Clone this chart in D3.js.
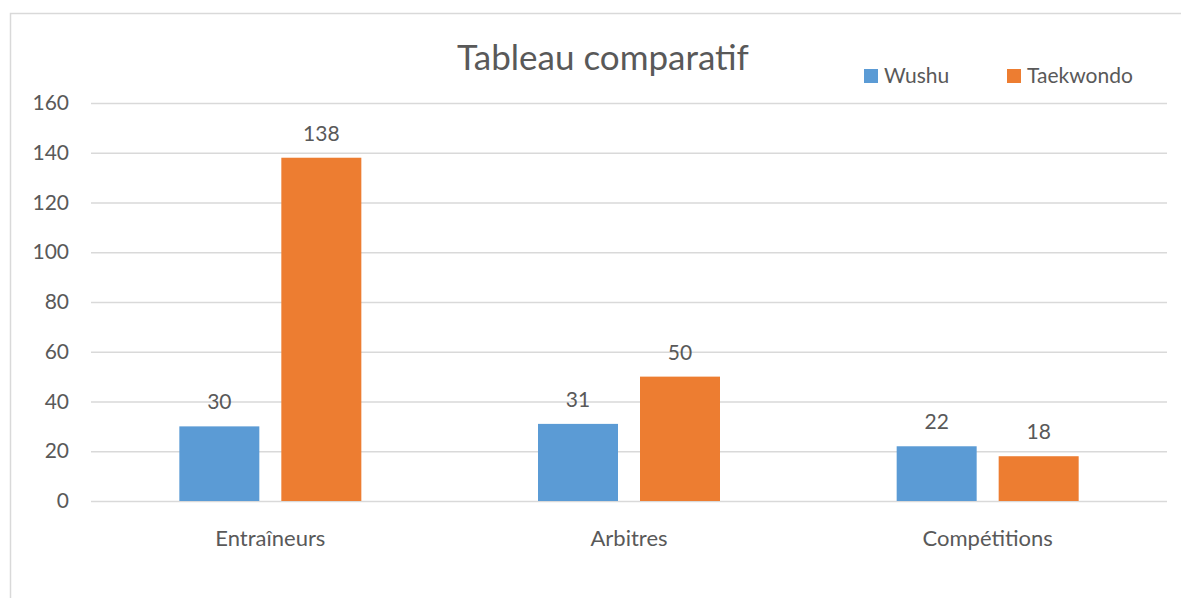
<!DOCTYPE html>
<html><head><meta charset="utf-8">
<script src="https://cdn.jsdelivr.net/npm/d3@7"></script>
<style>body{margin:0;background:#fff}svg{display:block}text{font-family:Lato,"Open Sans",sans-serif;fill:#595959}</style>
</head><body>
<script>
const categories = ["Entraîneurs", "Arbitres", "Compétitions"];
const seriesNames = ["Wushu", "Taekwondo"];
const wushu = [30, 31, 22];
const taekwondo = [138, 50, 18];
const yTicks = [0, 20, 40, 60, 80, 100, 120, 140, 160];
const colors = ["#5B9BD5", "#ED7D31"];
const title = "Tableau comparatif";

const W = 1181, H = 598;
const svg = d3.select("body").append("svg").attr("width", W).attr("height", H);
svg.append("rect").attr("x", 10.5).attr("y", 13.5).attr("width", W + 20).attr("height", H + 20)
  .attr("fill", "none").attr("stroke", "#d9d9d9").attr("stroke-width", 1.5);

const m = {l: 91, r: 1167, t: 103, b: 501};
const y = d3.scaleLinear().domain([0, 160]).range([m.b, m.t]);
const x0 = d3.scaleBand().domain(categories).range([m.l, m.r]).paddingInner(0).paddingOuter(0);
const x1 = d3.scaleBand().domain(seriesNames).range([0, 182]).paddingInner(22/102);

const yAxis = svg.append("g").attr("transform", `translate(${m.l},0)`)
  .call(d3.axisLeft(y).tickValues(yTicks).tickSize(-(m.r - m.l)).tickPadding(22));
yAxis.select(".domain").remove();
yAxis.selectAll(".tick line").attr("stroke", "#d9d9d9").attr("stroke-width", 1.5);
yAxis.selectAll(".tick text").attr("font-size", 21).style("fill", "#595959").attr("font-family", "Lato");

const xAxis = svg.append("g").attr("transform", `translate(0,${m.b})`)
  .call(d3.axisBottom(x0).tickSize(0).tickPadding(29));
xAxis.select(".domain").remove();
xAxis.selectAll(".tick text").attr("font-size", 22).style("fill", "#595959").attr("font-family", "Lato");

const data = categories.map((c, i) => ({c, vals: [wushu[i], taekwondo[i]]}));
const groups = svg.selectAll("g.grp").data(data).join("g").attr("class", "grp")
  .attr("transform", d => `translate(${x0(d.c) + (x0.bandwidth() - 182) / 2},0)`);
groups.selectAll("rect").data(d => d.vals.map((v, j) => ({v, s: seriesNames[j], j})))
  .join("rect")
  .attr("x", d => x1(d.s)).attr("width", x1.bandwidth())
  .attr("y", d => y(d.v)).attr("height", d => y(0) - y(d.v))
  .attr("fill", d => colors[d.j]);
groups.selectAll("text.val").data(d => d.vals.map((v, j) => ({v, s: seriesNames[j]})))
  .join("text").attr("class", "val")
  .attr("x", d => x1(d.s) + x1.bandwidth() / 2).attr("y", d => y(d.v) - 17)
  .attr("text-anchor", "middle").attr("font-size", 21).text(d => d.v);

svg.append("text").attr("x", 603).attr("y", 70).attr("text-anchor", "middle")
  .attr("font-size", 35).text(title);

const legX = [864, 1007];
seriesNames.forEach((s, i) => {
  svg.append("rect").attr("x", legX[i]).attr("y", 69).attr("width", 14).attr("height", 14).attr("fill", colors[i]);
  svg.append("text").attr("x", legX[i] + 20).attr("y", 83).attr("font-size", 21).text(s);
});
</script>
</body></html>
